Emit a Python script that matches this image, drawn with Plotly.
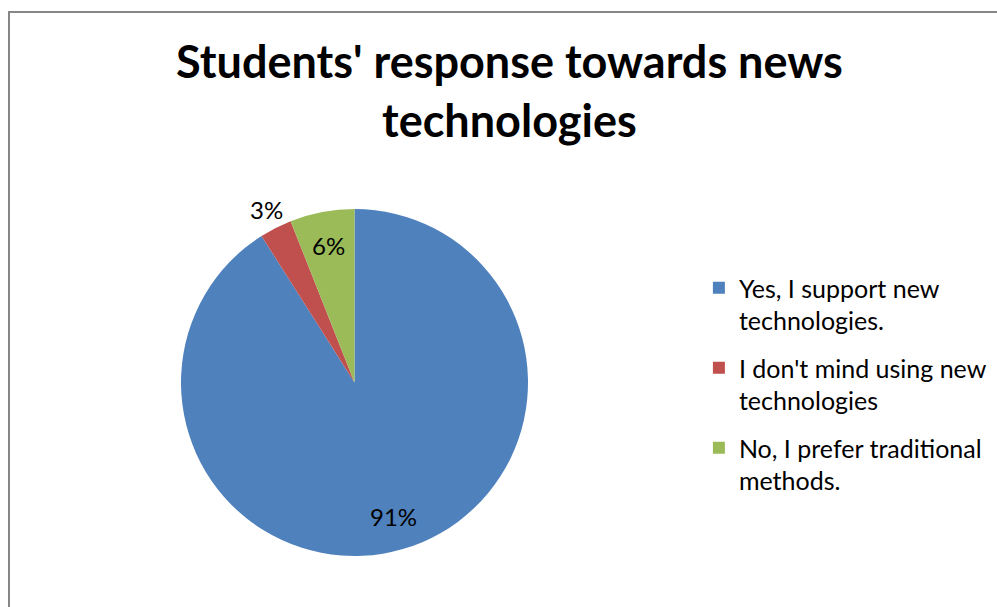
import math
import plotly.graph_objects as go

# Survey categories and their shares (percent)
categories = [
    "Yes, I support new<br>technologies.",
    "I don't mind using new<br>technologies",
    "No, I prefer traditional<br>methods.",
]
shares = [91, 3, 6]
colors = ["#4F81BD", "#C0504D", "#9BBB59"]
# radial placement of each value label, as a fraction of the pie radius
label_radius = [0.80, 1.11, 0.80]

title_text = "Students' response towards news<br>technologies"

W, H = 997, 607
PIE_X = [180 / W, 529 / W]
PIE_Y = [1 - 556 / H, 1 - 209 / H]

fig = go.Figure()

fig.add_trace(
    go.Pie(
        labels=categories,
        values=shares,
        sort=False,
        direction="clockwise",
        rotation=0,
        marker=dict(colors=colors, line=dict(width=0)),
        textinfo="none",
        domain=dict(x=PIE_X, y=PIE_Y),
        hoverinfo="label+percent",
        showlegend=False,
    )
)

# legend entries, one group per category so the group gap spaces them out
for i, (name, col) in enumerate(zip(categories, colors)):
    fig.add_trace(
        go.Scatter(
            x=[None],
            y=[None],
            mode="markers",
            name=name,
            legendgroup=f"g{i}",
            marker=dict(symbol="square", size=12, color=col),
            hoverinfo="skip",
        )
    )

# value labels placed at each slice's mid angle (clockwise from 12 o'clock)
cx = (PIE_X[0] + PIE_X[1]) / 2 * W
cy = (1 - (PIE_Y[0] + PIE_Y[1]) / 2) * H
radius = (PIE_X[1] - PIE_X[0]) * W / 2
total = sum(shares)
start = 0.0
annotations = []
for val, rf in zip(shares, label_radius):
    frac = val / total
    mid = (start + frac / 2) * 2 * math.pi
    start += frac
    px = cx + radius * rf * math.sin(mid)
    py = cy - radius * rf * math.cos(mid)
    annotations.append(
        dict(
            x=px / W,
            y=1 - py / H,
            xref="paper",
            yref="paper",
            text=f"{val}%",
            showarrow=False,
            xanchor="center",
            yanchor="middle",
            font=dict(family="Lato", size=24, color="#000000"),
        )
    )

fig.update_layout(
    width=W,
    height=H,
    margin=dict(l=0, r=0, t=0, b=0),
    paper_bgcolor="#FFFFFF",
    plot_bgcolor="#FFFFFF",
    font=dict(family="Lato", color="#000000"),
    xaxis=dict(visible=False),
    yaxis=dict(visible=False),
    title=dict(
        text="<b>" + title_text + "</b>",
        x=0.511,
        xanchor="center",
        y=1 - 78 / H,
        yanchor="top",
        font=dict(family="Lato", size=45, color="#000000"),
    ),
    legend=dict(
        x=0.701,
        xanchor="left",
        y=1 - 265 / H,
        yanchor="top",
        valign="top",
        traceorder="grouped",
        tracegroupgap=12,
        font=dict(family="Lato", size=25, color="#000000"),
        bgcolor="rgba(0,0,0,0)",
    ),
    annotations=annotations,
    shapes=[
        dict(
            type="rect",
            xref="paper",
            yref="paper",
            x0=9 / W,
            x1=1.05,
            y0=-0.05,
            y1=1 - 12 / H,
            line=dict(color="#868686", width=2),
            fillcolor="rgba(0,0,0,0)",
            layer="below",
        )
    ],
)

fig.write_html("out.html")
